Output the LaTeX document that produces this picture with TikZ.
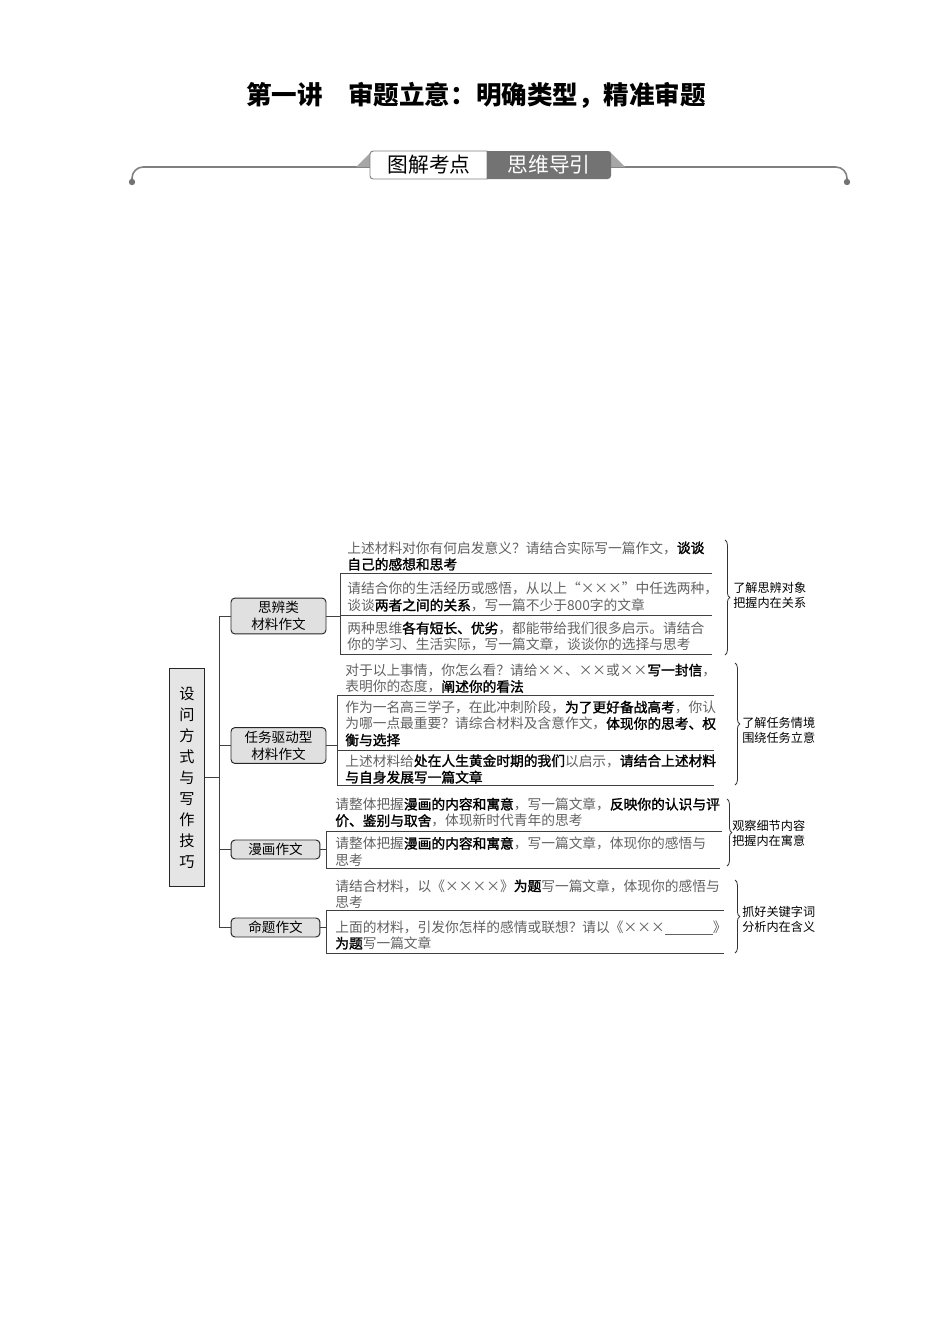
\documentclass[tikz,border=0pt]{standalone}
\usepackage{fontspec}
\setmainfont{Noto Sans CJK SC}
\newfontfamily\medfont{Noto Sans CJK SC}[FakeBold=1.6]
\usetikzlibrary{decorations.pathreplacing}
\definecolor{txtgray}{gray}{0.38}
\newcommand{\hb}[1]{{\medfont\color{black}#1}}
\newcommand{\X}{\makebox[1em]{×}}
\begin{document}
\begin{tikzpicture}[x=0.6263pt,y=-0.6263pt,
  cat/.style={draw=black!85,fill=black!12,rounded corners=2.5pt,line width=0.6pt,align=center,font=\fontsize{8.5pt}{10.6pt}\selectfont,inner sep=0pt},
  txt/.style={anchor=west,align=left,inner sep=0pt,text=txtgray,font=\fontsize{8.6pt}{10.3pt}\selectfont},
  lab/.style={anchor=west,align=left,inner sep=0pt,font=\fontsize{7.6pt}{9.3pt}\selectfont},
  frame/.style={line width=0.6pt,draw=black!75},
  brc/.style={decorate,decoration={brace,amplitude=3pt},line width=0.5pt,draw=black!80},
]
\useasboundingbox (0,0) rectangle (950,1344);

% title
\node[font=\fontsize{16pt}{19pt}\selectfont\bfseries] (title) at (476,95) {第一讲\hspace{1em}审题立意：明确类型，精准审题};

% banner
\draw[line width=1pt,draw=black!50,rounded corners=7pt] (132,182) -- (132,167) -- (847,167) -- (847,182);
\fill[black!55] (132,182) circle (2pt);
\fill[black!55] (847,182) circle (2pt);
\fill[black!35] (356,167) -- (372,151) -- (372,167) -- cycle;
\fill[black!35] (609,151) -- (625,167) -- (609,167) -- cycle;
\draw[black!50,fill=white,line width=0.6pt] (487,151) [rounded corners=2pt] -- (370,151) -- (370,179) [sharp corners] -- (487,179) -- cycle;
\fill[black!55] (487,151) [rounded corners=2pt] -- (611,151) -- (611,179) [sharp corners] -- (487,179) -- cycle;
\node[font=\fontsize{13pt}{15pt}\selectfont] (tab1) at (429,165) {图解考点};
\node[font=\fontsize{13pt}{15pt}\selectfont,text=white] (tab2) at (549,165) {思维导引};

% main box
\node[draw=black!85,fill=black!10,line width=0.6pt,minimum width=22.5pt,minimum height=137pt,inner sep=0pt,align=center,font=\fontsize{9.5pt}{13.15pt}\selectfont] (main) at (187,777.5) {设\\问\\方\\式\\与\\写\\作\\技\\巧};

% category boxes
\node[cat,minimum width=59.5pt,minimum height=22.5pt] (c1) at (278.5,616) {思辨类\\材料作文};
\node[cat,minimum width=59.5pt,minimum height=22.5pt] (c2) at (278.5,745.5) {任务驱动型\\材料作文};
\node[cat,minimum width=55.7pt,minimum height=11.9pt] (c3) at (275.5,849.5) {漫画作文};
\node[cat,minimum width=55.7pt,minimum height=11.9pt] (c4) at (275.5,927.5) {命题作文};

% trunk
\coordinate (tA) at (219,616);
\coordinate (tB) at (219,927.5);
\draw[frame] (tA) -- (tB);
\draw[frame] (main.east) -- (main.east -| tA);
\draw[frame] (c1.west) -- (c1.west -| tA);
\draw[frame] (c2.west) -- (c2.west -| tA);
\draw[frame] (c3.west) -- (c3.west -| tA);
\draw[frame] (c4.west) -- (c4.west -| tA);

% group 1
\node[txt] (t11) at (347,556) {上述材料对你有何启发意义？请结合实际写一篇作文，\hb{谈谈}\\\hb{自己的感想和思考}};
\node[txt] (t12) at (347,597) {请结合你的生活经历或感悟，从以上\makebox[1em][r]{“}\X\X\X\makebox[1em][l]{”}中任选两种，\\谈谈\hb{两者之间的关系}，写一篇不少于800字的文章};
\node[txt] (t13) at (347,636.5) {两种思维\hb{各有短长、优劣}，都能带给我们很多启示。请结合\\你的学习、生活实际，写一篇文章，谈谈你的选择与思考};
\draw[frame] (712,573) -- (340,573) -- (340,654) -- (712,654);
\draw[frame] (340,615) -- (712,615);
\coordinate (j1) at (340,616);
\draw[frame] (c1.east) -- (j1);
\draw[brc] (725,540) -- (725,655);
\node[lab] (l1) at (733,595.5) {了解思辨对象\\把握内在关系};

% group 2
\node[txt] (t21) at (345,678.5) {对于以上事情，你怎么看？请给\X\X、\X\X 或\X\X\hb{写一封信}，\\表明你的态度，\hb{阐述你的看法}};
\node[txt] (t22) at (345,723.5) {作为一名高三学子，在此冲刺阶段，\hb{为了更好备战高考}，你认\\为哪一点最重要？请综合材料及含意作文，\hb{体现你的思考、权}\\\hb{衡与选择}};
\node[txt] (t23) at (345,769) {上述材料给\hb{处在人生黄金时期的我们}以启示，\hb{请结合上述材料}\\\hb{与自身发展写一篇文章}};
\draw[frame] (714,695) -- (337,695) -- (337,785) -- (714,785);
\draw[frame] (337,750) -- (714,750);
\coordinate (j2) at (337,745.5);
\draw[frame] (c2.east) -- (j2);
\draw[brc] (735,663) -- (735,785);
\node[lab] (l2) at (742,730.5) {了解任务情境\\围绕任务立意};

% group 3
\node[txt] (t31) at (335,812.5) {请整体把握\hb{漫画的内容和寓意}，写一篇文章，\hb{反映你的认识与评}\\\hb{价、鉴别与取舍}，体现新时代青年的思考};
\node[txt] (t32) at (335,851.5) {请整体把握\hb{漫画的内容和寓意}，写一篇文章，体现你的感悟与\\思考};
\draw[frame] (722,831) -- (326,831) -- (326,868) -- (720,868);
\coordinate (j3) at (326,849.5);
\draw[frame] (c3.east) -- (j3);
\draw[brc] (727,799) -- (727,866);
\node[lab] (l3) at (732,833.5) {观察细节内容\\把握内在寓意};

% group 4
\node[txt] (t41) at (335,894) {请结合材料，以《\X\X\X\X》\hb{为题}写一篇文章，体现你的感悟与\\思考};
\node[txt] (t42) at (335,935) {上面的材料，引发你怎样的感情或联想？请以《\X\X\X\underline{\hspace{3.5em}}》\\\hb{为题}写一篇文章};
\draw[frame] (724,910) -- (326,910) -- (326,953) -- (724,953);
\coordinate (j4) at (326,927.5);
\draw[frame] (c4.east) -- (j4);
\draw[brc] (735,880) -- (735,953);
\node[lab] (l4) at (742,919) {抓好关键字词\\分析内在含义};
\end{tikzpicture}
\end{document}
